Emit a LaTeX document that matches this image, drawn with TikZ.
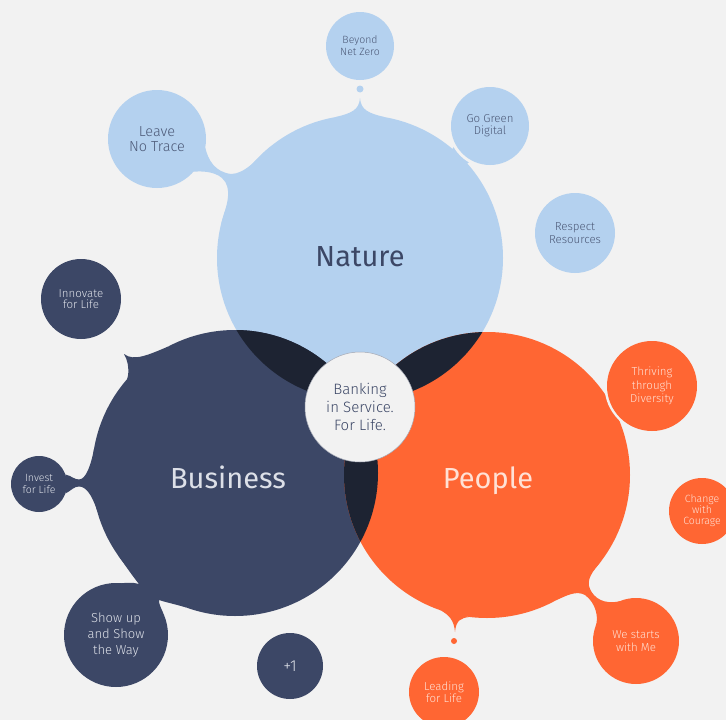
\documentclass[tikz,border=0pt]{standalone}
\usepackage{fontspec}
\setmainfont{Fira Sans Light}
\newfontfamily\labelfont{Fira Sans}
\definecolor{paper}{HTML}{F2F2F2}
\definecolor{natblue}{HTML}{B4D1EF}
\definecolor{biznavy}{HTML}{3C4766}
\definecolor{pplorange}{HTML}{FF6633}
\definecolor{overlap}{HTML}{1D2332}
\definecolor{natink}{HTML}{4D5A78}
\definecolor{bizink}{HTML}{DDE0E8}
\definecolor{pplink}{HTML}{FFE1D5}
\definecolor{rimgray}{HTML}{A3A8B4}
\tikzset{
  bigdisc/.style={circle, minimum size=286pt, inner sep=0pt, outer sep=0pt},
  sat/.style={circle, inner sep=0pt, outer sep=0pt, align=center},
  natsat/.style={sat, fill=natblue, text=natink},
  bizsat/.style={sat, fill=biznavy, text=bizink},
  pplsat/.style={sat, fill=pplorange, text=pplink},
  biglabel/.style={anchor=base, font=\labelfont\fontsize{29}{36}\selectfont}
}
\begin{document}
\begin{tikzpicture}[x=1pt,y=-1pt]
		%background
		\fill[paper] (0,0) rectangle (726,720);
		\useasboundingbox (0,0) rectangle (726,720);
		\clip (0,0) rectangle (726,720);

		%main circles
		\node[bigdisc, fill=natblue] (nat) at (360,258) {};
		\node[bigdisc, fill=biznavy] (biz) at (235,473) {};
		\node[bigdisc, fill=pplorange] (ppl) at (487,475) {};

		%spikes
		\fill[natblue] (nat.100) .. controls (352,113) and (359,110) .. (360,98) .. controls (361,110) and (368,113) .. (nat.80) -- cycle;
		\fill[biznavy] (biz.118) .. controls (150,354) and (134,362) .. (124,354) .. controls (131,366) and (131,385) .. (biz.148) -- cycle;
		\fill[pplorange] (ppl.-109) .. controls (449,615) and (454,620) .. (455,632) .. controls (456,620) and (461,618) .. (ppl.-97) -- cycle;

		%touching bubbles
		\fill[natblue] (462,154) circle (11pt);
		\fill[paper] (490,126) circle (42pt);
		\fill[pplorange] (613,407) circle (14pt);
		\fill[paper] (652,386) circle (47.5pt);

		%overlaps
		\begin{scope}
			\clip (nat.center) circle (143pt);
			\fill[overlap] (biz.center) circle (143pt);
			\fill[overlap] (ppl.center) circle (143pt);
		\end{scope}
		\begin{scope}
			\clip (biz.center) circle (143pt);
			\fill[overlap] (ppl.center) circle (143pt);
		\end{scope}

		%core
		\node[sat, minimum size=110pt, fill=paper, draw=rimgray, line width=0.5pt, text=biznavy, font=\fontsize{15}{17.7}\selectfont] (core) at (360,407) {Banking\\in Service.\\For Life.};

		%nature bubbles
		\node[natsat, minimum size=68pt, font=\fontsize{10.5}{12}\selectfont] (beyond) at (360,46) {Beyond\\Net Zero};
		\node[natsat, minimum size=78pt, font=\fontsize{11.5}{12}\selectfont] (gogreen) at (490,126) {Go Green\\Digital};
		\node[natsat, minimum size=98pt, font=\fontsize{14.5}{15.7}\selectfont] (leave) at (157,139) {Leave\\No Trace};
		\node[natsat, minimum size=80pt, font=\fontsize{11.5}{12.3}\selectfont] (respect) at (575,233) {Respect\\Resources};

		%business bubbles
		\node[bizsat, minimum size=80pt, font=\fontsize{11.5}{11.7}\selectfont] (innovate) at (81,299) {Innovate\\for Life};
		\node[bizsat, minimum size=56pt, font=\fontsize{10.5}{11.7}\selectfont] (invest) at (39,484) {Invest\\for Life};
		\node[bizsat, minimum size=104pt, font=\fontsize{13}{15.7}\selectfont] (showup) at (116,635) {Show up\\and Show\\the Way};
		\node[bizsat, minimum size=66pt, font=\fontsize{16}{18}\selectfont] (plusone) at (290,666) {+1};

		%people bubbles
		\node[pplsat, minimum size=90pt, font=\fontsize{11.5}{13.5}\selectfont] (thriving) at (652,386) {Thriving\\through\\Diversity};
		\node[pplsat, minimum size=66pt, font=\fontsize{10.5}{11}\selectfont] (change) at (702,511) {Change\\with\\Courage};
		\node[pplsat, minimum size=86pt, font=\fontsize{11.5}{12.3}\selectfont] (westarts) at (636,641) {We starts\\with Me};
		\node[pplsat, minimum size=70pt, font=\fontsize{11.5}{12.3}\selectfont] (leading) at (444,692) {Leading\\for Life};

		%necks
		\fill[natblue] (leave.-10) .. controls (208,160) and (215,172) .. (231,174) .. controls (245,174) and (258,158) .. (nat.129) -- (nat.166) .. controls (227,205) and (233,188) .. (222,178) .. controls (214,171) and (200,171) .. (leave.-42) -- cycle;
		\fill[biznavy] (invest.20) .. controls (72,476) and (74,479.5) .. (79,479.5) .. controls (86,479.5) and (91,465) .. (biz.170) -- (biz.195) .. controls (92,495) and (86,486.5) .. (79,486.5) .. controls (74,486.5) and (72,490) .. (invest.-20) -- cycle;
		\fill[biznavy] (biz.215) .. controls (126,566.5) and (134,578) .. (139,584) .. controls (132,582) and (127,583) .. (showup.85) -- (showup.25) .. controls (161,608) and (158.5,603) .. (159,600) .. controls (165,602) and (174,604) .. (biz.250) -- cycle;
		\fill[pplorange] (ppl.-37) .. controls (592,572) and (586,580) .. (590,589) .. controls (594,598) and (604,605) .. (westarts.112) -- (westarts.160) .. controls (599,618) and (596,603) .. (585,595) .. controls (576,590) and (566,596) .. (ppl.-61) -- cycle;

		%dots
		\fill[natblue] (360,89) circle (3.5pt);
		\fill[pplorange] (454,641) circle (3pt);

		%labels
		\node[biglabel, text=biznavy] (natlbl) at (360,266) {Nature};
		\node[biglabel, text=bizink] (bizlbl) at (228,488) {Business};
		\node[biglabel, text=pplink] (ppllbl) at (488,488) {People};
\end{tikzpicture}
\end{document}
